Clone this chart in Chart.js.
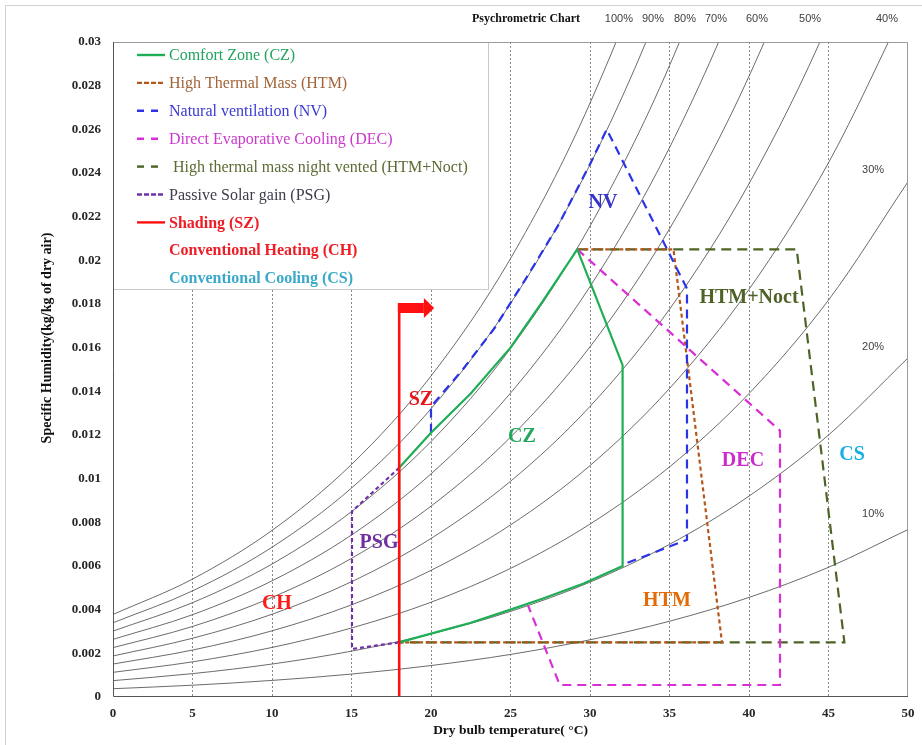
<!DOCTYPE html>
<html>
<head>
<meta charset="utf-8">
<script src="https://cdn.jsdelivr.net/npm/chart.js@4.4.0/dist/chart.umd.min.js"></script>
<style>
  html, body { margin: 0; padding: 0; background: #fff; }
</style>
</head>
<body>
<canvas id="psychro" width="922" height="745"></canvas>
<script>
// dry bulb temperatures (°C) where the RH curves were read
var temps = [0, 5, 10, 15, 20, 25, 30, 35, 40, 45, 50];

// relative humidity curves, specific humidity (kg/kg of dry air)
var rh100 = [0.00378, 0.00540, 0.00763, 0.01065, 0.01470, 0.02008, 0.02720, 0.03657, 0.04887, 0.06502, 0.08629];
var rh90  = [0.00340, 0.00486, 0.00686, 0.00957, 0.01320, 0.01802, 0.02438, 0.03272, 0.04364, 0.05792, 0.07660];
var rh80  = [0.00302, 0.00432, 0.00609, 0.00849, 0.01170, 0.01596, 0.02157, 0.02892, 0.03849, 0.05095, 0.06717];
var rh70  = [0.00264, 0.00377, 0.00532, 0.00742, 0.01022, 0.01392, 0.01880, 0.02516, 0.03342, 0.04413, 0.05799];
var rh60  = [0.00226, 0.00323, 0.00456, 0.00635, 0.00874, 0.01190, 0.01604, 0.02144, 0.02843, 0.03745, 0.04905];
var rh50  = [0.00188, 0.00269, 0.00379, 0.00528, 0.00726, 0.00988, 0.01331, 0.01776, 0.02351, 0.03090, 0.04035];
var rh40  = [0.00151, 0.00215, 0.00303, 0.00422, 0.00580, 0.00788, 0.01060, 0.01413, 0.01867, 0.02447, 0.03186];
var rh30  = [0.00113, 0.00161, 0.00227, 0.00316, 0.00434, 0.00589, 0.00792, 0.01054, 0.01390, 0.01818, 0.02360];
var rh20  = [0.00075, 0.00107, 0.00151, 0.00210, 0.00289, 0.00392, 0.00526, 0.00699, 0.00920, 0.01200, 0.01553];
var rh10  = [0.00038, 0.00054, 0.00076, 0.00105, 0.00144, 0.00195, 0.00262, 0.00347, 0.00456, 0.00594, 0.00767];

// design strategy zones (temperature, specific humidity)
var czT  = [18, 20, 22.5, 25, 27, 29.6, 32.05, 32.05, 29.2, 27, 25, 22.5, 20, 18, 18];
var czW  = [0.0025, 0.0029, 0.0034, 0.0040, 0.0045, 0.0052, 0.0060, 0.0152, 0.0205, 0.0181, 0.0160, 0.0139, 0.0121, 0.0105, 0.0025];
var htmT = [29.2, 35.25, 38.3, 18];
var htmW = [0.0205, 0.0205, 0.0025, 0.0025];
var nvT  = [20, 20, 22, 24, 26, 28, 30, 31.05, 36.1, 36.1, 32.2];
var nvW  = [0.0121, 0.0133, 0.0150, 0.0169, 0.0192, 0.0216, 0.0244, 0.0260, 0.0187, 0.0072, 0.0061];
var decT = [29.2, 41.95, 41.95, 28.1, 26.1];
var decW = [0.0205, 0.0122, 0.00055, 0.00055, 0.0042];
var hnT  = [29.2, 43.0, 46.0, 18];
var hnW  = [0.0205, 0.0205, 0.0025, 0.0025];
var psgT = [18, 15.03, 15.03, 18];
var psgW = [0.0105, 0.0085, 0.0022, 0.0025];
var szT  = [18, 18];
var szW  = [0, 0.0180];

// axis ticks
var xTicks = [0, 5, 10, 15, 20, 25, 30, 35, 40, 45, 50];
var yTicks = [0, 0.002, 0.004, 0.006, 0.008, 0.01, 0.012, 0.014, 0.016, 0.018, 0.02, 0.022, 0.024, 0.026, 0.028, 0.03];

function pts(xs, ys) {
    return xs.map(function(x, i){ return {x: x, y: ys[i]}; });
}

var serif = "'Liberation Serif', 'Times New Roman', serif";

//RH curves
var rhCurves = [rh100, rh90, rh80, rh70, rh60, rh50, rh40, rh30, rh20, rh10].map(function(arr){
    return {
        data: pts(temps, arr),
        showLine: true,
        borderColor: "#5a5a5a",
        borderWidth: 0.9,
        pointRadius: 0,
        cubicInterpolationMode: "monotone",
        order: 20
    };
});

function zone(xs, ys, color, dash, width, order) {
    return {
        data: pts(xs, ys),
        showLine: true,
        borderColor: color,
        borderWidth: width,
        borderDash: dash,
        pointRadius: 0,
        tension: 0,
        order: order
    };
}

var datasets = [
    zone(szT, szW, "#ff1010", [], 2.6, 0),
    zone(czT, czW, "#1fae55", [], 2.2, 1),
    zone(nvT, nvW, "#2a33e6", [9, 6], 2.2, 2),
    zone(decT, decW, "#d930d6", [9, 6], 2.2, 3),
    zone(htmT, htmW, "#b5561a", [4, 3], 2.2, 4),
    zone(hnT, hnW, "#4d6424", [10, 6], 2.2, 5),
    zone(psgT, psgW, "#7030a8", [4, 3], 2.2, 6)
].concat(rhCurves);

var legendItems = [
    {text: "Comfort Zone (CZ)", color: "#22a45e", line: "#1fae55", dash: [], bold: false},
    {text: "High Thermal Mass (HTM)", color: "#a1643a", line: "#b5561a", dash: [5, 2], bold: false},
    {text: "Natural ventilation (NV)", color: "#3a3ad2", line: "#2a33e6", dash: [7, 7], bold: false},
    {text: "Direct Evaporative Cooling (DEC)", color: "#cc38cc", line: "#d930d6", dash: [7, 7], bold: false},
    {text: " High thermal mass night vented (HTM+Noct)", color: "#5b6b34", line: "#4d6424", dash: [7, 7], bold: false},
    {text: "Passive Solar gain (PSG)", color: "#3f3a4c", line: "#7030a8", dash: [5, 2], bold: false},
    {text: "Shading (SZ)", color: "#ee1c24", line: "#ff1010", dash: [], bold: true},
    {text: "Conventional Heating (CH)", color: "#ee1c24", line: null, dash: [], bold: true},
    {text: "Conventional Cooling (CS)", color: "#3aa9c9", line: null, dash: [], bold: true}
];

var zoneLabels = [
    {text: "NV", x: 30.82, y: 0.02263, color: "#3434cc"},
    {text: "HTM+Noct", x: 40.0, y: 0.01828, color: "#4f6228"},
    {text: "SZ", x: 19.37, y: 0.01360, color: "#e8141c"},
    {text: "CZ", x: 25.72, y: 0.01191, color: "#22a85c"},
    {text: "DEC", x: 39.62, y: 0.01082, color: "#cc2ccc"},
    {text: "CS", x: 46.48, y: 0.01109, color: "#18b0e6"},
    {text: "PSG", x: 16.73, y: 0.00705, color: "#7030a0"},
    {text: "CH", x: 10.31, y: 0.00426, color: "#ff1a1a"},
    {text: "HTM", x: 34.84, y: 0.00440, color: "#e36c09"}
];

var topPct = [
    {text: "100%", x: 31.82}, {text: "90%", x: 33.96}, {text: "80%", x: 35.97},
    {text: "70%", x: 37.92}, {text: "60%", x: 40.5}, {text: "50%", x: 43.84}, {text: "40%", x: 48.68}
];
var sidePct = [
    {text: "30%", x: 47.8, y: 0.02414}, {text: "20%", x: 47.8, y: 0.01603}, {text: "10%", x: 47.8, y: 0.00838}
];

var overlay = {
    id: "overlay",
    afterDatasetsDraw: function(chart) {
        var c = chart.ctx, xs = chart.scales.x, ys = chart.scales.y;
        c.save();

        // shading arrow
        var x0 = xs.getPixelForValue(18), x1 = xs.getPixelForValue(19.55), xt = xs.getPixelForValue(20.2);
        var yt = ys.getPixelForValue(0.018);
        c.fillStyle = "#ff1010";
        c.fillRect(x0 - 1.3, yt - 1, x1 - x0 + 1.3, 10);
        c.beginPath();
        c.moveTo(x1, yt - 6);
        c.lineTo(xt, yt + 4);
        c.lineTo(x1, yt + 14);
        c.closePath();
        c.fill();

        // zone labels
        c.font = "bold 20px " + serif;
        c.textAlign = "center";
        c.textBaseline = "middle";
        zoneLabels.forEach(function(l){
            c.fillStyle = l.color;
            c.fillText(l.text, xs.getPixelForValue(l.x), ys.getPixelForValue(l.y));
        });

        // side RH labels
        c.font = "11px 'Liberation Sans', Arial, sans-serif";
        c.fillStyle = "#404040";
        sidePct.forEach(function(l){
            c.fillText(l.text, xs.getPixelForValue(l.x), ys.getPixelForValue(l.y));
        });

        // legend box
        var bx = chart.chartArea.left, by = chart.chartArea.top;
        c.fillStyle = "#fff";
        c.fillRect(bx, by, 375, 247);
        c.strokeStyle = "#c9c9c9";
        c.lineWidth = 1;
        c.strokeRect(bx + 0.5, by + 0.5, 375, 247);
        c.textAlign = "left";
        legendItems.forEach(function(it, i){
            var y = by + 13 + i * 27.9;
            if (it.line) {
                c.beginPath();
                c.setLineDash(it.dash);
                c.strokeStyle = it.line;
                c.lineWidth = 2.4;
                c.moveTo(bx + 24, y);
                c.lineTo(bx + 52, y);
                c.stroke();
                c.setLineDash([]);
            }
            c.font = (it.bold ? "bold " : "") + "16px " + serif;
            c.fillStyle = it.color;
            c.fillText(it.text, bx + 56, y + 1);
        });
        c.restore();
    },
    afterDraw: function(chart) {
        var c = chart.ctx, a = chart.chartArea, xs = chart.scales.x;
        c.save();
        // plot frame
        c.lineWidth = 1;
        c.strokeStyle = "#9a9a9a";
        c.beginPath();
        c.moveTo(a.left, a.top + 0.5); c.lineTo(a.right - 0.5, a.top + 0.5); c.lineTo(a.right - 0.5, a.bottom);
        c.stroke();
        c.strokeStyle = "#555";
        c.beginPath();
        c.moveTo(a.left + 0.5, a.top); c.lineTo(a.left + 0.5, a.bottom - 0.5); c.lineTo(a.right, a.bottom - 0.5);
        c.stroke();

        // outer chart border
        c.strokeStyle = "#d0d0d0";
        c.beginPath();
        c.moveTo(5.5, 745); c.lineTo(5.5, 5.5); c.lineTo(922, 5.5);
        c.stroke();

        // title
        c.fillStyle = "#111";
        c.textAlign = "center";
        c.textBaseline = "middle";
        c.font = "bold 12px " + serif;
        c.fillText("Psychrometric Chart", 526, 19);

        // top RH labels
        c.font = "11px 'Liberation Sans', Arial, sans-serif";
        c.fillStyle = "#404040";
        topPct.forEach(function(l){
            c.fillText(l.text, xs.getPixelForValue(l.x), 19);
        });

        // axis titles
        c.fillStyle = "#111";
        c.font = "bold 13.5px " + serif;
        c.fillText("Dry bulb temperature( \u00B0C)", (a.left + a.right) / 2, 731);
        c.translate(47, 338);
        c.rotate(-Math.PI / 2);
        c.font = "bold 14px " + serif;
        c.fillText("Specific Humidity(kg/kg of dry air)", 0, 0);
        c.restore();
    }
};

var chart = new Chart(document.getElementById("psychro"), {
    type: "scatter",
    data: { datasets: datasets },
    options: {
        responsive: false,
        animation: false,
        layout: { padding: { left: 53, right: 14, top: 42, bottom: 0 } },
        plugins: { legend: { display: false }, tooltip: { enabled: false } },
        scales: {
            x: {
                type: "linear",
                min: 0,
                max: 50,
                afterBuildTicks: function(s){ s.ticks = xTicks.map(function(v){ return {value: v}; }); },
                afterFit: function(s){ s.height = 48; s.paddingLeft = 0; s.paddingRight = 0; },
                ticks: {
                    padding: 9,
                    color: "#262626",
                    font: { family: serif, size: 13, weight: "bold" }
                },
                grid: {
                    drawTicks: false,
                    lineWidth: 1,
                    color: function(c){
                        var v = c.tick ? c.tick.value : null;
                        return (v === 0 || v === 50) ? "rgba(0,0,0,0)" : "#8a8a8a";
                    }
                },
                border: { display: false, dash: [2, 2] }
            },
            y: {
                type: "linear",
                min: 0,
                max: 0.03,
                afterBuildTicks: function(s){ s.ticks = yTicks.map(function(v){ return {value: v}; }); },
                afterFit: function(s){ s.width = 60; s.paddingTop = 0; s.paddingBottom = 0; },
                ticks: {
                    padding: 12,
                    color: "#262626",
                    font: { family: serif, size: 13, weight: "bold" },
                    callback: function(v){ return String(parseFloat(Number(v).toFixed(3))); }
                },
                grid: { display: false, drawTicks: false },
                border: { display: false }
            }
        }
    },
    plugins: [overlay]
});
</script>
</body>
</html>
